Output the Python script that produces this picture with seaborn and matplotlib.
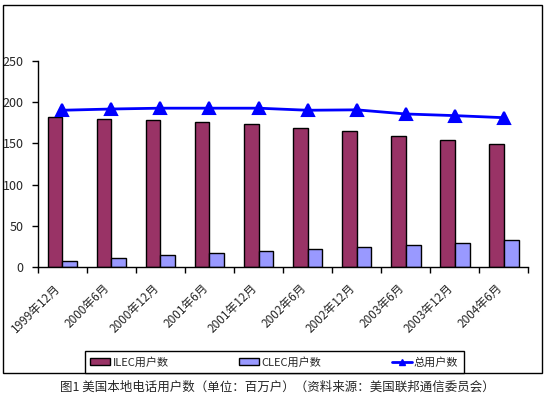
import matplotlib
matplotlib.use('Agg')
import matplotlib.pyplot as plt
import matplotlib.transforms as mtransforms
import seaborn as sns
import pandas as pd
from matplotlib.patches import Rectangle, Patch
from matplotlib.lines import Line2D

# 数据（单位：百万户）
periods = ['1999年12月', '2000年6月', '2000年12月', '2001年6月', '2001年12月',
           '2002年6月', '2002年12月', '2003年6月', '2003年12月', '2004年6月']
ilec = [182, 180, 178, 175.5, 173, 168.5, 165, 158.5, 154, 149]
clec = [7.5, 11, 14.5, 17, 19.5, 22, 24, 26.5, 30, 32.5]
total = [190, 191.5, 192.5, 192.5, 192.5, 190, 190.5, 185.5, 183.5, 181]

series_names = ['ILEC用户数', 'CLEC用户数', '总用户数']
colors = ['#993366', '#9999FF', '#0000FF']

sns.set_theme(style='white')
plt.rcParams['font.family'] = ['Liberation Sans Narrow', 'Noto Sans CJK SC', 'DejaVu Sans']
plt.rcParams['axes.unicode_minus'] = False

df = pd.DataFrame({
    'period': periods * 2,
    'value': ilec + clec,
    'series': [series_names[0]] * len(periods) + [series_names[1]] * len(periods),
})

fig = plt.figure(figsize=(5.48, 3.99), dpi=100)
ax = fig.add_axes([0.0688, 0.330, 0.8956, 0.518])

sns.barplot(data=df, x='period', y='value', hue='series', order=periods,
            hue_order=series_names[:2], palette=colors[:2], width=0.6,
            edgecolor='black', linewidth=1, saturation=1, legend=False, ax=ax)
sns.pointplot(x=periods, y=total, order=periods, color=colors[2], markers='^',
              markersize=8, linewidth=2, ax=ax)

ax.set_ylim(0, 250)
ax.set_xlim(-0.5, len(periods) - 0.5)
ax.set_yticks([0, 50, 100, 150, 200, 250])
ax.set_xlabel('')
ax.set_ylabel('')
ax.grid(False)
for s in ['top', 'right']:
    ax.spines[s].set_visible(False)
for s in ['left', 'bottom']:
    ax.spines[s].set_color('black')
    ax.spines[s].set_linewidth(1)

# x轴刻度线放在类别边界
ax.set_xticks([i - 0.5 for i in range(len(periods) + 1)], minor=True)
ax.tick_params(axis='x', which='minor', direction='out', length=4, width=1, color='black', bottom=True)
ax.tick_params(axis='x', which='major', length=0, pad=10)
ax.tick_params(axis='y', direction='out', length=4, width=1, color='black', left=True, labelsize=9, pad=6)
ax.set_xticks(range(len(periods)))
ax.set_xticklabels(periods, rotation=45, ha='right', va='top', rotation_mode='anchor', fontsize=8.5)
shift = mtransforms.ScaledTranslation(-6 / 72, 0, fig.dpi_scale_trans)
for lbl in ax.get_xticklabels():
    lbl.set_transform(lbl.get_transform() + shift)

# 外框
fig.patches.append(Rectangle((0.005, 0.0652), 0.9835, 0.9223, transform=fig.transFigure,
                             fill=False, edgecolor='black', linewidth=1))

handles = [
    Patch(facecolor=colors[0], edgecolor='black', linewidth=1),
    Patch(facecolor=colors[1], edgecolor='black', linewidth=1),
    Line2D([], [], color=colors[2], linewidth=2, marker='^', markersize=5),
]
leg = fig.legend(handles, series_names, loc='lower left', ncol=3, mode='expand',
                 bbox_to_anchor=(0.155, 0.0652, 0.6916, 0.0652), fontsize=8,
                 frameon=True, fancybox=False, edgecolor='black', framealpha=1,
                 handlelength=1.8, handleheight=0.6, handletextpad=0.2,
                 borderpad=0.5, borderaxespad=0)
leg.get_frame().set_linewidth(1)

fig.text(0.507, 0.03, '图1 美国本地电话用户数（单位：百万户）（资料来源：美国联邦通信委员会）',
         ha='center', va='center', fontsize=9)

fig.savefig('out.png', dpi=100, facecolor='white')
